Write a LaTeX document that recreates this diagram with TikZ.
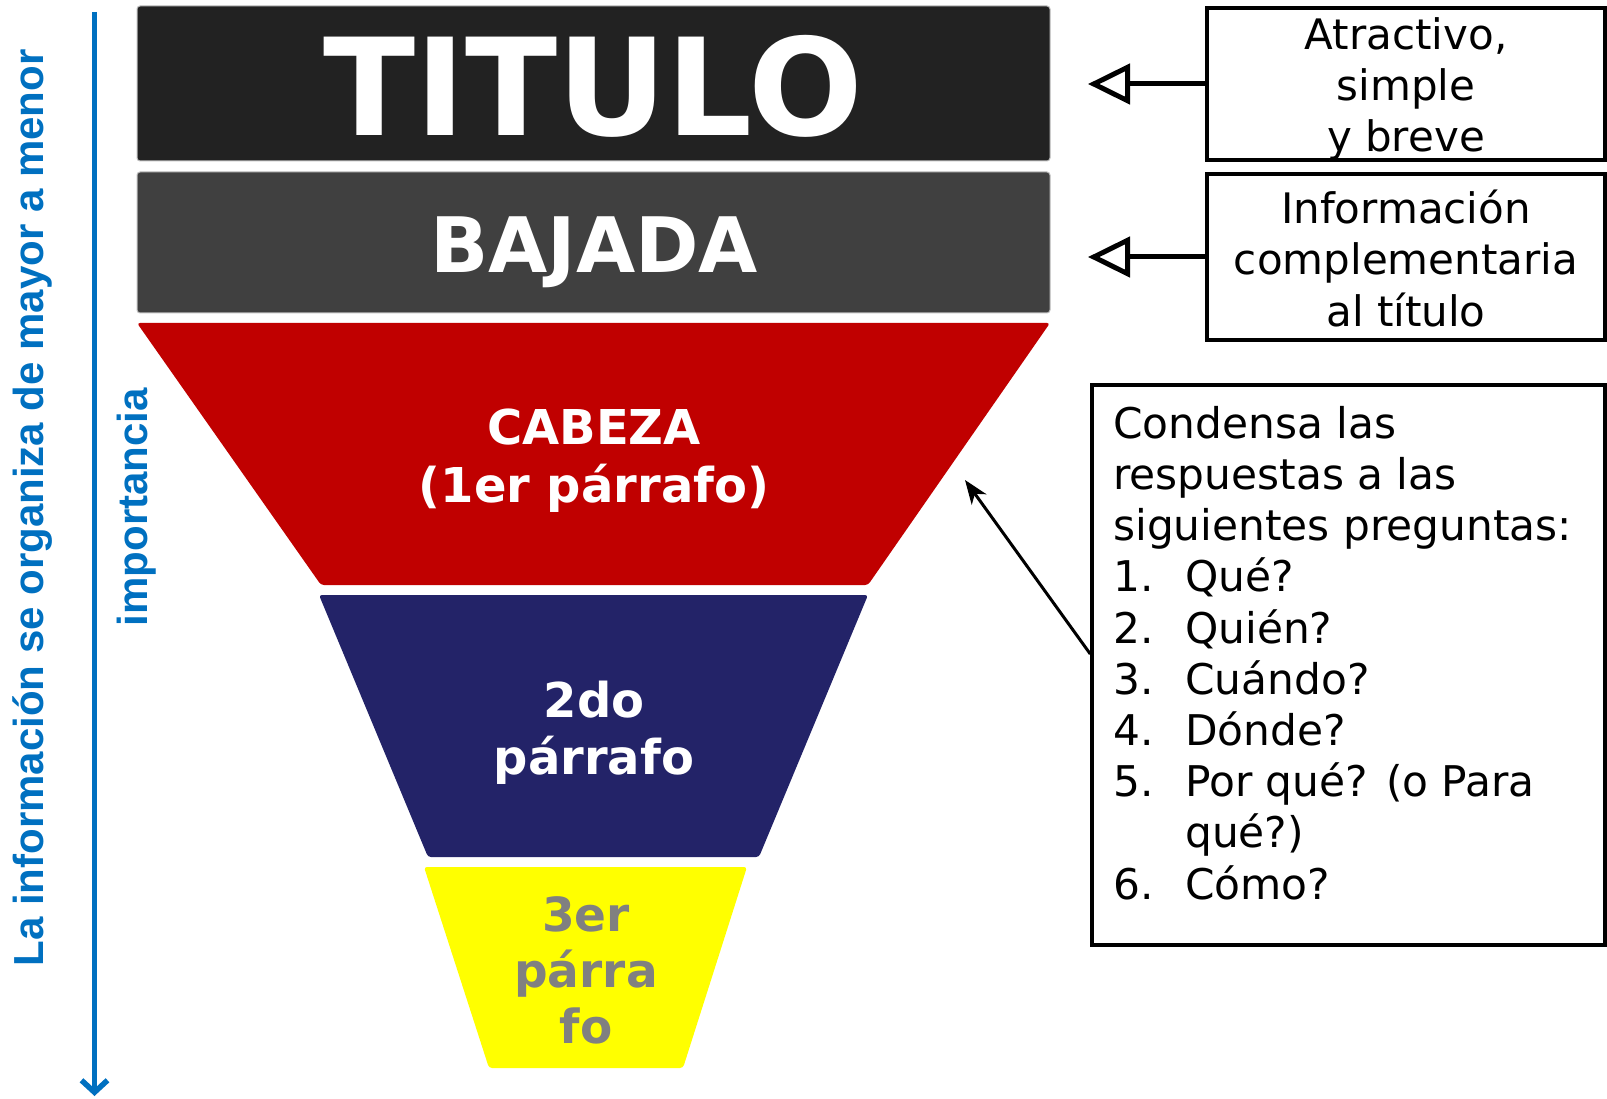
\documentclass[tikz,border=0pt]{standalone}
\usepackage{fontspec}
\setmainfont{DejaVu Sans}
\newfontfamily\arialf{Liberation Sans}
\usetikzlibrary{arrows.meta}
\definecolor{titc}{HTML}{222222}
\definecolor{bajc}{HTML}{404040}
\definecolor{cabc}{HTML}{C00000}
\definecolor{parc}{HTML}{232368}
\definecolor{yelc}{HTML}{FFFF00}
\definecolor{grayt}{HTML}{808080}
\definecolor{infoblue}{HTML}{0070C0}
\tikzset{
  band/.style={rounded corners=3pt},
  wtext/.style={text=white, inner sep=0, align=center},
  sidebox/.style={draw=black, line width=4.5pt, inner sep=0},
  sidetext/.style={inner sep=0, align=center, font=\fontsize{42}{51}\selectfont},
  hollowarrow/.style={line width=5pt, -{Triangle[open, length=42pt, width=40pt]}},
  thinarrow/.style={line width=3pt, -{Stealth[length=24pt, width=18pt, inset=7pt]}},
  bluetext/.style={rotate=90, anchor=base, inner sep=0, text=infoblue, font=\arialf\bfseries\fontsize{42}{50}\selectfont},
}
\begin{document}
\begin{tikzpicture}[x=1pt,y=-1pt]
\useasboundingbox (0,0) rectangle (1607,1099);

% left axis
\coordinate (axtop) at (94.5,12);
\coordinate (axbot) at (94.5,1096);
\draw[infoblue, line width=5.5pt, -{Straight Barb[length=12pt, width=26pt]}] (axtop) -- (axbot);
\node[bluetext] (lefttxt) at (43,508) {La información se organiza de mayor a menor};
\node[bluetext] (imptxt) at (147,507) {importancia};

% funnel
\path[fill=titc, draw=gray!50, line width=1pt, band] (137,6) rectangle (1050,161);
\path[fill=bajc, draw=gray!50, line width=1pt, band] (137,172) rectangle (1050,313);
\path[fill=cabc, band] (137,323) -- (1050,323) -- (868,585) -- (321,585) -- cycle;
\path[fill=parc, band] (319,595) -- (868,595) -- (759,857) -- (428,857) -- cycle;
\path[fill=yelc, band] (424,867) -- (747,867) -- (683,1068) -- (489,1068) -- cycle;

\node[wtext, anchor=base, font=\bfseries\fontsize{135}{140}\selectfont] (titulo) at (593,136) {TITULO};
\node[wtext, anchor=base, font=\bfseries\fontsize{76.5}{80}\selectfont] (bajada) at (594,273) {BAJADA};
\node[wtext, anchor=north, font=\bfseries\fontsize{48}{58}\selectfont] (cabeza) at (594,403.4) {\strut CABEZA\\(1er párrafo)};
\node[wtext, anchor=north, font=\bfseries\fontsize{48}{57}\selectfont] (segundo) at (594,677.1) {\strut 2do\\párrafo};
\node[wtext, text=grayt, anchor=north, font=\bfseries\fontsize{47}{56}\selectfont] (tercero) at (586,891.8) {\strut 3er\\párra\\fo};

% side boxes
\node[sidebox, minimum width=398pt, minimum height=152pt] (b1) at (1406,84) {};
\node[sidebox, minimum width=398pt, minimum height=166pt] (b2) at (1406,257) {};
\node[sidebox, line width=3.5pt, minimum width=513pt, minimum height=560pt] (b3) at (1348.5,665) {};

\node[sidetext, anchor=north] (t1) at (1406,13.3) {\strut Atractivo,\\simple\\y breve};
\node[sidetext, anchor=north, font=\fontsize{42}{51.5}\selectfont] (t2) at (1406,187) {\strut Información\\complementaria\\al título};
\node[inner sep=0, anchor=north west, align=left, font=\fontsize{42.3}{51.2}\selectfont] (t3) at (1113,402.2)
  {\strut Condensa las\\respuestas a las\\siguientes preguntas:\\
   \makebox[72pt][l]{1.}Qué?\\
   \makebox[72pt][l]{2.}Quién?\\
   \makebox[72pt][l]{3.}Cuándo?\\
   \makebox[72pt][l]{4.}Dónde?\\
   \makebox[72pt][l]{5.}Por qué? (o Para\\
   \hspace*{72pt}qué?)\\
   \makebox[72pt][l]{6.}Cómo?};

% connectors
\coordinate (tip1) at (1088,84);
\coordinate (tip2) at (1088,257);
\draw[hollowarrow] (b1.west) -- (tip1);
\draw[hollowarrow] (b2.west) -- (tip2);
\coordinate (cabtip) at (965,480);
\coordinate (b3y) at (0,654);
\draw[thinarrow] (b3.west |- b3y) -- (cabtip);
\end{tikzpicture}
\end{document}
